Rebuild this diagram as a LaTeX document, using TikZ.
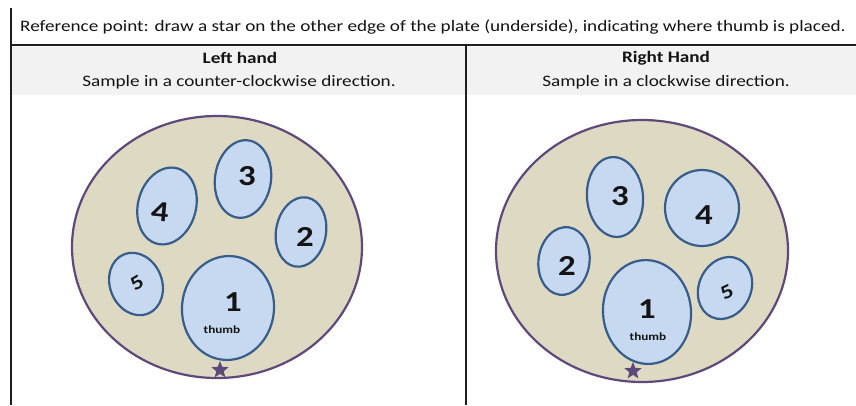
\documentclass[tikz,border=0pt]{standalone}
\usepackage{fontspec}
\setmainfont{Carlito}
\usetikzlibrary{shapes.geometric}
\definecolor{platefill}{RGB}{221,217,195}
\definecolor{plateline}{RGB}{95,73,122}
\definecolor{ovalfill}{RGB}{198,217,241}
\definecolor{ovalline}{RGB}{56,93,138}
\definecolor{headgray}{RGB}{242,242,242}
\definecolor{rulecol}{RGB}{30,30,30}
\definecolor{txt}{RGB}{20,20,20}
\newcommand{\wide}[1]{\scalebox{1.2}[1]{#1}}
\tikzset{
  rulel/.style={draw=rulecol, line width=2pt},
  plate/.style={ellipse, draw=plateline, fill=platefill, line width=2.2pt, inner sep=0pt},
  oval/.style={ellipse, draw=ovalline, fill=ovalfill, line width=2.2pt, inner sep=0pt},
  num/.style={text=txt, font=\fontsize{29}{29}\selectfont\bfseries, inner sep=0pt},
  small/.style={text=txt, font=\fontsize{20}{20}\selectfont\bfseries, inner sep=0pt},
  thumbtxt/.style={text=txt, font=\fontsize{11}{11}\selectfont\bfseries, inner sep=0pt},
  headtxt/.style={text=txt, font=\fontsize{16}{18}\selectfont, inner sep=0pt},
  headbold/.style={text=txt, font=\fontsize{16}{18}\selectfont\bfseries, inner sep=0pt},
  starmark/.style={star, star points=5, star point ratio=2.3, fill=plateline, minimum size=18pt, inner sep=0pt}
}
\begin{document}
\begin{tikzpicture}[x=1pt,y=-1pt]
\useasboundingbox[fill=white] (0,0) rectangle (856,405);
% header band
\fill[headgray] (12,47) rectangle (856,95);
% rules
\coordinate (tl) at (11,8);
\coordinate (bl) at (11,405);
\coordinate (hl) at (11,45);
\coordinate (hr) at (856,45);
\coordinate (mt) at (466,45);
\coordinate (mb) at (466,405);
\draw[rulel] (tl) -- (bl);
\draw[rulel] (hl) -- (hr);
\draw[rulel] (mt) -- (mb);
% header texts
\node[headtxt, anchor=west] (ref) at (20,27) {\wide{Reference point: draw a star on the other edge of the plate (underside), indicating where thumb is placed.}};
\node[headbold] (lt) at (240,58) {\wide{Left hand}};
\node[headtxt] (ls) at (239,82) {\wide{Sample in a counter-clockwise direction.}};
\node[headbold] (rt) at (666,58) {\wide{Right Hand}};
\node[headtxt] (rs) at (666,82) {\wide{Sample in a clockwise direction.}};
% left plate
\node[plate, minimum width=290pt, minimum height=262pt] (LP) at (217,247) {};
\node[oval, minimum width=56pt, minimum height=78pt, rotate=-8] (L3) at (243,179) {};
\node[oval, minimum width=58pt, minimum height=78pt, rotate=-15] (L4) at (167,206) {};
\node[oval, minimum width=50pt, minimum height=70pt, rotate=-10] (L2) at (301,232) {};
\node[oval, minimum width=52pt, minimum height=64pt, rotate=22] (L5) at (136,284) {};
\node[oval, minimum width=92pt, minimum height=104pt, rotate=-5] (L1) at (228,308) {};
\node[num] (L3t) at (247,176) {\wide{3}};
\node[num, rotate=-5] (L4t) at (160,212) {\wide{4}};
\node[num] (L2t) at (305,237) {\wide{2}};
\node[small, rotate=30] (L5t) at (137,283) {\wide{5}};
\node[num] (L1t) at (233,302) {\wide{1}};
\node[thumbtxt] (L1h) at (222,330) {\wide{thumb}};
\node[starmark] (LS) at (220,370) {};
% right plate
\node[plate, minimum width=292pt, minimum height=262pt] (RP) at (642,251) {};
\node[oval, minimum width=56pt, minimum height=80pt, rotate=5] (R3) at (615,197) {};
\node[oval, minimum width=74pt, minimum height=76pt] (R4) at (702,208) {};
\node[oval, minimum width=51pt, minimum height=68pt, rotate=-8] (R2) at (564,261) {};
\node[oval, minimum width=88pt, minimum height=104pt, rotate=5] (R1) at (647,312) {};
\node[oval, minimum width=52pt, minimum height=64pt, rotate=-25] (R5) at (725,288) {};
\node[num] (R3t) at (620,196) {\wide{3}};
\node[num] (R4t) at (704,215) {\wide{4}};
\node[num] (R2t) at (567,266) {\wide{2}};
\node[num] (R1t) at (647,309) {\wide{1}};
\node[thumbtxt] (R1h) at (648,337) {\wide{thumb}};
\node[small, rotate=25] (R5t) at (727,292) {\wide{5}};
\node[starmark] (RS) at (633,371) {};
\end{tikzpicture}
\end{document}
